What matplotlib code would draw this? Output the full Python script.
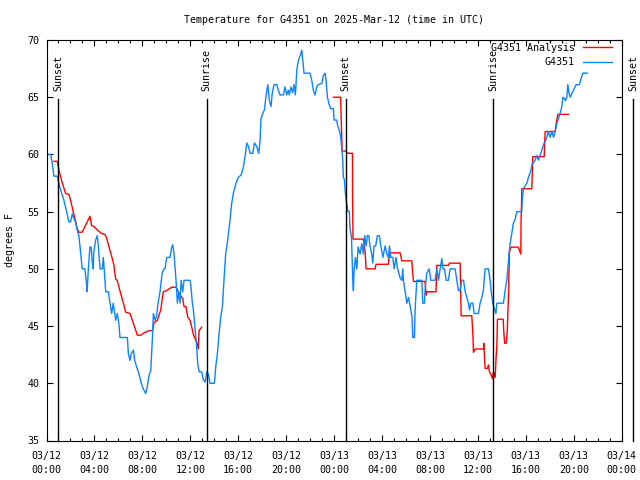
"""
Temperatura observada vs. analisis para la estacion G4351 (12-13 marzo 2025, UTC).
Estilo tipo gnuplot: fuente monoespaciada, ticks hacia dentro en los cuatro lados.
"""

import numpy as np
import matplotlib
matplotlib.use("Agg")
import matplotlib.pyplot as plt
from matplotlib.ticker import MultipleLocator
import matplotlib.transforms as mtransforms

plt.rcParams["font.family"] = ["DejaVu Sans Mono"]

# --- datos: horas desde 2025-03-12 00:00 UTC, grados F -----------------------
obs_hours = [
    0.21, 0.35, 0.48, 0.62, 0.90, 0.98, 1.18, 1.45, 1.68, 1.87, 2.01, 2.15, 2.29,
    2.42, 2.56, 2.70, 2.84, 2.98, 3.20, 3.34, 3.39, 3.47, 3.62, 3.73, 3.81, 3.89,
    3.95, 4.10, 4.24, 4.33, 4.47, 4.66, 4.74, 4.88, 4.94, 5.16, 5.30, 5.44, 5.57,
    5.69, 5.77, 5.91, 6.05, 6.13, 6.75, 6.83, 6.97, 7.08, 7.25, 7.36, 7.53, 7.72,
    7.91, 8.08, 8.27, 8.41, 8.56, 8.70, 8.84, 8.92, 9.06, 9.19, 9.31, 9.47, 9.58,
    9.66, 9.81,
    9.89, 10.03, 10.31, 10.45, 10.54, 10.64, 10.81, 10.92, 11.04, 11.15, 11.23,
    11.37, 11.48, 11.76, 11.98, 12.06, 12.17, 12.25, 12.39, 12.53, 12.62, 12.75,
    12.95, 13.09, 13.23, 13.38, 13.51, 13.65, 14.01, 14.12, 14.26, 14.40, 14.54,
    14.68, 14.81, 14.95, 15.12, 15.31, 15.45, 15.59, 15.82, 16.01, 16.24, 16.43,
    16.57, 16.71, 16.85, 16.99, 17.21, 17.35, 17.54, 17.71, 17.82, 17.90, 18.05,
    18.19, 18.33, 18.47, 18.60, 18.74, 18.83, 18.99, 19.22, 19.35, 19.49,
    19.77, 19.91, 20.05, 20.18, 20.26, 20.40, 20.54, 20.66, 20.77, 20.89, 21.02,
    21.22, 21.30, 21.39, 21.49, 21.99, 22.13, 22.27, 22.41, 22.55, 22.68, 22.97,
    23.11, 23.25, 23.33, 23.44, 23.58, 23.72, 23.94, 24.00, 24.22, 24.30, 24.44,
    24.55, 24.64, 24.72, 24.77, 24.86, 24.94, 25.05, 25.16, 25.27, 25.33, 25.45,
    25.51, 25.56, 25.61, 25.67, 25.78, 25.90, 26.00, 26.17, 26.31, 26.44, 26.56,
    26.67, 26.78, 26.89, 27.00, 27.14, 27.23, 27.33, 27.47, 27.61, 27.78, 27.90,
    28.07, 28.26, 28.40, 28.53, 28.62, 28.73, 28.90, 29.01, 29.17, 29.28, 29.36,
    29.51,
    29.65, 29.73, 29.78, 29.92, 30.07, 30.21, 30.35, 30.49, 30.57, 30.70, 30.76,
    30.85, 30.90, 31.32, 31.40, 31.54, 31.59, 31.73, 31.93, 32.07, 32.42, 32.58,
    32.71, 32.85, 32.99, 33.07, 33.21, 33.35, 33.54, 33.68, 34.10, 34.24, 34.37,
    34.51, 34.65, 34.80, 34.94, 35.08, 35.21, 35.30, 35.41, 35.58, 35.69, 36.04,
    36.18, 36.33, 36.46, 36.60, 36.88, 37.02, 37.10, 37.25, 37.38, 37.50, 37.58,
    37.86, 38.13, 38.27, 38.41, 38.55, 38.63, 38.69, 38.83, 38.96, 39.10, 39.25,
    39.66, 39.71, 39.80, 40.09, 40.22, 40.42, 40.50, 40.78, 40.92, 41.05, 41.19,
    41.38, 41.53, 41.61, 41.75, 41.88, 42.03, 42.17, 42.31, 42.45, 42.59, 42.72,
    42.86, 43.01, 43.09, 43.20, 43.31, 43.42, 43.50, 43.61, 43.70, 43.84, 43.97,
    44.20, 44.47, 44.61, 44.75, 45.14,
]
obs_temp = [
    60.0, 60.0, 59.2, 58.1, 58.1, 57.7, 56.9, 56.0, 55.0, 54.1, 54.1, 54.8, 54.4,
    54.1, 53.4, 52.9, 51.5, 50.0, 50.0, 48.7, 48.0, 49.6, 51.9, 51.9, 50.7, 50.0,
    51.5, 52.5, 52.9, 51.9, 50.0, 50.0, 51.0, 49.0, 48.0, 48.0, 47.0, 46.1, 47.0,
    46.1, 45.5, 46.1, 45.1, 44.0, 44.0, 42.6, 42.0, 42.6, 42.9, 42.0, 41.4, 40.8,
    40.0, 39.5, 39.1, 39.7, 40.7, 41.1, 44.0, 46.1, 45.5, 45.9, 47.0, 48.0, 49.0,
    49.7, 50.0,
    50.0, 51.0, 51.0, 51.9, 52.1, 51.3, 49.0, 47.0, 48.0, 47.0, 49.0,
    48.0, 49.0, 49.0, 49.0, 48.4, 47.0, 46.5, 44.9, 43.2, 41.7, 41.0,
    41.0, 40.3, 40.1, 41.0, 40.8, 40.0, 40.0, 41.4, 42.6, 44.3, 45.8,
    46.7, 49.0, 51.3, 52.5, 54.2, 55.7, 56.6, 57.5, 58.0, 58.2, 58.9,
    59.8, 61.0, 60.7, 60.1, 60.1, 61.0, 60.7, 60.1, 61.2, 63.1, 63.6,
    63.9, 65.2, 66.1, 64.7, 64.2, 65.3, 66.1, 66.1, 65.6, 65.2,
    65.2, 65.9, 65.2, 65.6, 65.2, 65.9, 65.4, 66.1, 65.2, 67.4, 68.2,
    68.8, 69.1, 68.2, 67.1, 67.1, 66.5, 65.6, 65.2, 65.9, 66.1, 66.2,
    66.9, 67.1, 66.5, 65.0, 64.4, 64.0, 64.0, 63.0, 63.0, 62.5, 62.1,
    61.5, 60.5, 59.5, 58.0, 57.8, 56.6, 55.7, 55.0, 55.0, 53.5, 52.8,
    50.7, 49.0, 48.1, 49.9, 51.0, 50.0, 51.9, 51.3, 52.2, 51.3, 52.9,
    52.0, 52.9, 52.9, 52.0, 51.3, 50.5, 52.0, 52.0, 52.9, 52.9, 52.0,
    51.0, 52.0, 51.3, 51.0, 52.0, 51.0, 51.0, 50.0, 51.0, 50.1, 49.8,
    49.2,
    49.0, 50.0, 49.0, 48.1, 47.0, 47.5, 46.7, 45.9, 44.0, 44.0, 46.4,
    48.1, 49.0, 49.0, 47.0, 47.0, 48.1, 49.6, 50.0, 49.0, 49.0, 50.0,
    49.0, 50.0, 50.9, 50.0, 50.0, 49.0, 49.0, 50.0, 50.0, 49.0, 48.1,
    48.1, 49.0, 49.0, 48.0, 47.5, 47.0, 46.4, 47.0, 47.0, 46.1, 46.1,
    47.0, 47.5, 48.1, 50.0, 50.0, 49.0, 48.1, 47.0, 46.5, 46.1, 47.0,
    47.0, 47.0, 48.1, 49.0, 50.7, 51.6, 52.2, 53.1, 54.0, 54.3, 55.0,
    55.0, 56.1, 57.0, 57.5, 58.0, 58.6, 59.1, 59.5, 59.9, 59.5, 59.9,
    60.5, 61.0, 61.1, 61.5, 62.0, 61.5, 62.0, 61.5, 62.0, 62.7, 63.1,
    63.6, 64.2, 65.0, 64.9, 64.7, 65.0, 66.1, 65.3, 65.0, 65.3, 65.6,
    66.1, 66.1, 66.6, 67.1, 67.1,
]

# analisis: nan = hueco entre las dos pasadas
nan = float("nan")
ana_hours = [
    0.62, 0.90, 1.04, 1.32, 1.59, 1.87, 2.01, 2.23, 2.42, 2.56, 2.70, 2.98, 3.63,
    3.76, 3.95, 4.24, 4.58, 4.88, 5.02, 5.22, 5.49, 5.63, 5.77, 5.90, 6.20, 6.47,
    6.61, 6.97, 7.16, 7.36, 7.58, 7.86, 8.13, 8.56, 8.84, 8.98, 9.25, 9.53, 9.75,
    10.03, 10.45, 10.81, 11.00, 11.16, 11.37, 11.48, 11.64, 11.78, 11.98, 12.12,
    12.25, 12.39, 12.53, 12.67, 12.73, 12.95,
    18.0,
    23.94, 24.54, 24.61, 24.67, 24.92, 25.19, 25.53, 25.54, 25.58, 26.44, 26.59,
    26.67, 27.42, 27.50, 28.53, 28.61, 29.51, 29.65, 30.48, 30.62, 31.59, 31.68,
    31.74, 32.51, 32.57, 33.54, 33.62, 34.52, 34.60, 35.49, 35.58, 35.63, 35.77,
    36.46, 36.49, 36.54, 36.60, 36.79, 36.88, 36.96, 37.08, 37.21, 37.30, 37.44,
    37.52, 37.58, 37.63, 38.11, 38.16, 38.23, 38.36, 38.44, 38.55, 38.63, 38.77,
    39.36, 39.58, 39.60, 39.67, 40.50, 40.58, 41.53, 41.61, 42.45, 42.53, 42.67,
    43.56,
]
ana_temp = [
    59.4, 59.4, 58.6, 57.5, 56.6, 56.5, 56.0, 55.0, 54.2, 53.5, 53.2, 53.2, 54.6,
    53.8, 53.7, 53.4, 53.1, 53.0, 52.7, 51.9, 50.9, 50.3, 49.1, 49.0, 47.8, 46.8,
    46.2, 46.1, 45.5, 44.9, 44.2, 44.2, 44.4, 44.6, 44.6, 45.3, 45.5, 46.4, 48.0,
    48.1, 48.4, 48.4, 48.0, 47.7, 47.4, 46.7, 46.7, 45.8, 45.5, 44.9,
    44.3, 43.9, 43.6, 43.0, 44.6, 44.9,
    nan,
    65.0, 65.0, 62.5, 60.3, 60.3, 60.1, 60.1, 56.4, 52.6, 52.6, 51.5,
    50.0, 50.0, 50.4, 50.4, 51.4, 51.4, 50.7, 50.7, 48.9, 48.9, 47.7,
    48.0, 48.0, 50.3, 50.3, 50.5, 50.5, 45.9, 45.9, 44.3, 42.7, 43.0,
    43.0, 43.5, 42.5, 41.3, 41.3, 41.6, 41.0, 40.8, 40.4, 41.0, 40.5,
    42.3, 43.3, 45.6, 45.6, 44.5, 43.5, 43.5, 44.3, 47.5, 51.5, 51.9,
    51.9, 51.3, 54.1, 57.0, 57.0, 59.8, 59.8, 62.0, 62.0, 62.7, 63.5,
    63.5,
]

sun_hours = [0.99, 13.37, 24.97, 37.30, 48.98]
sun_labels = ["Sunset", "Sunrise", "Sunset", "Sunrise", "Sunset"]

tick_labels = [
    "03/12\n00:00", "03/12\n04:00", "03/12\n08:00", "03/12\n12:00",
    "03/12\n16:00", "03/12\n20:00", "03/13\n00:00", "03/13\n04:00",
    "03/13\n08:00", "03/13\n12:00", "03/13\n16:00", "03/13\n20:00",
    "03/14\n00:00",
]

RED  = "#ff0000"
BLUE = "#0a84ff"
FS   = 7.2

fig = plt.figure(figsize=(6.4, 4.8), dpi=100)
ax = fig.add_axes([46.5 / 640, 39.5 / 480, 575.2 / 640, 400.5 / 480])

ax.plot(ana_hours, ana_temp, color=RED, lw=1.0, label="G4351 Analysis")
ax.plot(obs_hours, obs_temp, color=BLUE, lw=1.0, label="G4351")

# lineas de orto / ocaso
trans = mtransforms.blended_transform_factory(ax.transData, ax.transAxes)
for h, name in zip(sun_hours, sun_labels):
    ax.plot([h, h], [0, 0.853], color="black", lw=1.0, transform=trans,
            clip_on=False)
    ax.text(h, 0.872, name, rotation=90, ha="center", va="bottom",
            fontsize=FS, transform=trans, clip_on=False)

ax.set_xlim(0, 48)
ax.set_ylim(35, 70)
ax.set_xticks(np.arange(0, 49, 4))
ax.set_xticklabels(tick_labels)
for lbl in ax.get_xticklabels():
    lbl.set_linespacing(1.45)
ax.xaxis.set_minor_locator(MultipleLocator(1))
ax.yaxis.set_major_locator(MultipleLocator(5))

ax.tick_params(which="both", direction="in", top=True, right=True,
               labelsize=FS, width=0.8)
ax.tick_params(which="major", length=4.5)
ax.tick_params(which="minor", length=2.5)
ax.tick_params(axis="x", pad=7.5)
ax.tick_params(axis="y", pad=5)
for sp in ax.spines.values():
    sp.set_linewidth(0.8)

ax.set_ylabel("degrees F", fontsize=FS, labelpad=9)
ax.set_title("Temperature for G4351 on 2025-Mar-12 (time in UTC)",
             fontsize=FS, pad=12)

ax.legend(loc="upper right", bbox_to_anchor=(0.983, 0.993), frameon=False,
          markerfirst=False, fontsize=FS, borderpad=0, borderaxespad=0,
          handlelength=2.9, handletextpad=0.8, labelspacing=0.45)

fig.savefig("out.png", dpi=100)
